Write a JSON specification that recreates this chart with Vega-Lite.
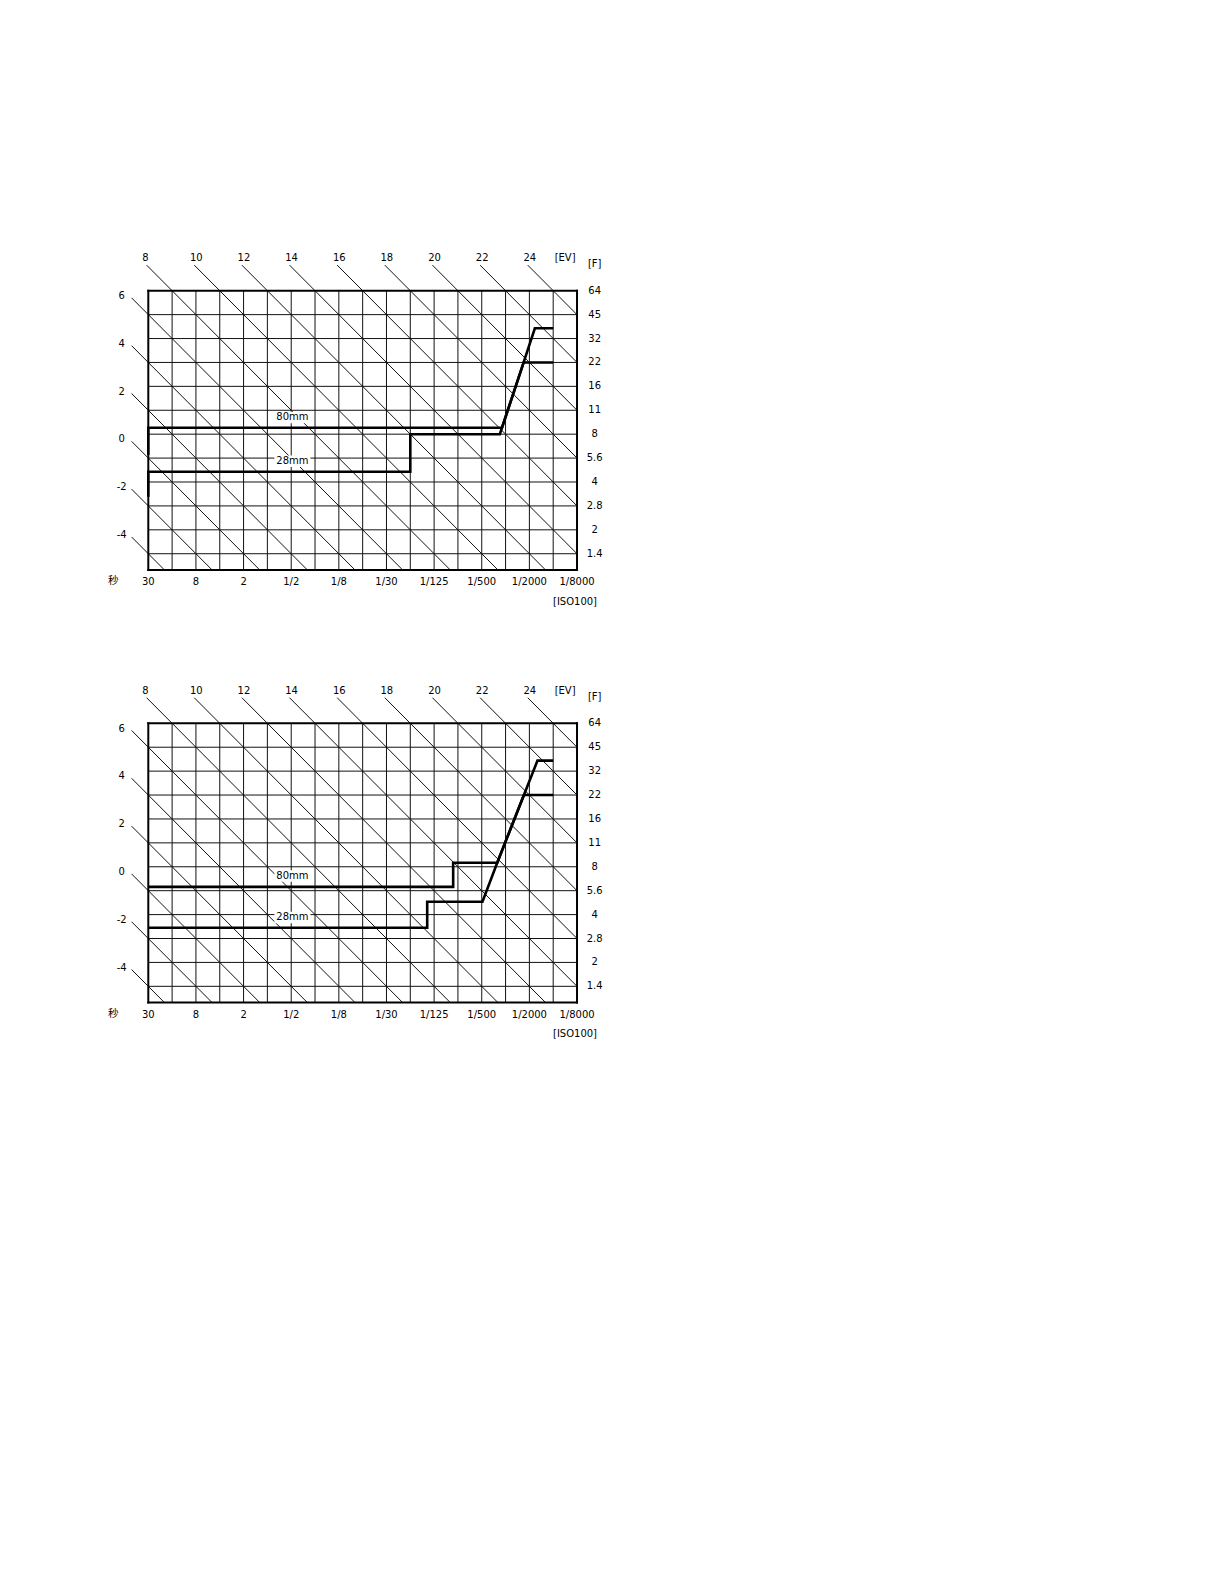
{
  "$schema": "https://vega.github.io/schema/vega-lite/v6.json",
  "background": "white",
  "padding": {"left": 88.75, "top": 242.9, "right": 0, "bottom": 0},
  "spacing": 59.6,
  "config": {
    "view": {"stroke": null},
    "text": {"font": "DejaVu Sans", "fontSize": 10, "color": "black"}
  },
  "datasets": {
    "grid": [
      {"tv": -4, "av": 0.32, "tv2": -4, "av2": 12}, {"tv": -3, "av": 0.32, "tv2": -3, "av2": 12},
      {"tv": -2, "av": 0.32, "tv2": -2, "av2": 12}, {"tv": -1, "av": 0.32, "tv2": -1, "av2": 12},
      {"tv": 0, "av": 0.32, "tv2": 0, "av2": 12}, {"tv": 1, "av": 0.32, "tv2": 1, "av2": 12},
      {"tv": 2, "av": 0.32, "tv2": 2, "av2": 12}, {"tv": 3, "av": 0.32, "tv2": 3, "av2": 12},
      {"tv": 4, "av": 0.32, "tv2": 4, "av2": 12}, {"tv": 5, "av": 0.32, "tv2": 5, "av2": 12},
      {"tv": 6, "av": 0.32, "tv2": 6, "av2": 12}, {"tv": 7, "av": 0.32, "tv2": 7, "av2": 12},
      {"tv": 8, "av": 0.32, "tv2": 8, "av2": 12}, {"tv": 9, "av": 0.32, "tv2": 9, "av2": 12},
      {"tv": 10, "av": 0.32, "tv2": 10, "av2": 12}, {"tv": 11, "av": 0.32, "tv2": 11, "av2": 12},
      {"tv": 12, "av": 0.32, "tv2": 12, "av2": 12},
      {"tv": -5, "av": 1, "tv2": 13, "av2": 1}, {"tv": -5, "av": 2, "tv2": 13, "av2": 2},
      {"tv": -5, "av": 3, "tv2": 13, "av2": 3}, {"tv": -5, "av": 4, "tv2": 13, "av2": 4},
      {"tv": -5, "av": 5, "tv2": 13, "av2": 5}, {"tv": -5, "av": 6, "tv2": 13, "av2": 6},
      {"tv": -5, "av": 7, "tv2": 13, "av2": 7}, {"tv": -5, "av": 8, "tv2": 13, "av2": 8},
      {"tv": -5, "av": 9, "tv2": 13, "av2": 9}, {"tv": -5, "av": 10, "tv2": 13, "av2": 10},
      {"tv": -5, "av": 11, "tv2": 13, "av2": 11},
      {"tv": -5.07, "av": 13.07, "tv2": 7.68, "av2": 0.32},
      {"tv": -3.07, "av": 13.07, "tv2": 9.68, "av2": 0.32},
      {"tv": -1.07, "av": 13.07, "tv2": 11.68, "av2": 0.32},
      {"tv": 0.93, "av": 13.07, "tv2": 13, "av2": 1},
      {"tv": 2.93, "av": 13.07, "tv2": 13, "av2": 3},
      {"tv": 4.93, "av": 13.07, "tv2": 13, "av2": 5},
      {"tv": 6.93, "av": 13.07, "tv2": 13, "av2": 7},
      {"tv": 8.93, "av": 13.07, "tv2": 13, "av2": 9},
      {"tv": 10.93, "av": 13.07, "tv2": 13, "av2": 11},
      {"tv": -5.7, "av": 11.7, "tv2": 5.68, "av2": 0.32},
      {"tv": -5.7, "av": 9.7, "tv2": 3.68, "av2": 0.32},
      {"tv": -5.7, "av": 7.7, "tv2": 1.68, "av2": 0.32},
      {"tv": -5.7, "av": 5.7, "tv2": -0.32, "av2": 0.32},
      {"tv": -5.7, "av": 3.7, "tv2": -2.32, "av2": 0.32},
      {"tv": -5.7, "av": 1.7, "tv2": -4.32, "av2": 0.32}
    ],
    "frame": [
      {"tv": -5, "av": 12, "tv2": 13, "av2": 12},
      {"tv": -5, "av": 0.32, "tv2": 13, "av2": 0.32},
      {"tv": -5, "av": 0.32, "tv2": -5, "av2": 12},
      {"tv": 13, "av": 0.32, "tv2": 13, "av2": 12}
    ],
    "evTop": [
      {"label": "8", "tv": -5.25, "av": 13.35},
      {"label": "10", "tv": -3.25, "av": 13.35},
      {"label": "12", "tv": -1.25, "av": 13.35},
      {"label": "14", "tv": 0.75, "av": 13.35},
      {"label": "16", "tv": 2.75, "av": 13.35},
      {"label": "18", "tv": 4.75, "av": 13.35},
      {"label": "20", "tv": 6.75, "av": 13.35},
      {"label": "22", "tv": 8.75, "av": 13.35},
      {"label": "24", "tv": 10.75, "av": 13.35},
      {"label": "[EV]", "tv": 12.06, "av": 13.36}
    ],
    "centred": [
      {"label": "6", "tv": -6.12, "av": 11.78},
      {"label": "4", "tv": -6.12, "av": 9.78},
      {"label": "2", "tv": -6.12, "av": 7.78},
      {"label": "0", "tv": -6.12, "av": 5.78},
      {"label": "-2", "tv": -6.12, "av": 3.78},
      {"label": "-4", "tv": -6.12, "av": 1.78},
      {"label": "30", "tv": -5, "av": -0.2}, {"label": "8", "tv": -3, "av": -0.2},
      {"label": "2", "tv": -1, "av": -0.2}, {"label": "1/2", "tv": 1, "av": -0.2},
      {"label": "1/8", "tv": 3, "av": -0.2}, {"label": "1/30", "tv": 5, "av": -0.2},
      {"label": "1/125", "tv": 7, "av": -0.2}, {"label": "1/500", "tv": 9, "av": -0.2},
      {"label": "1/2000", "tv": 11, "av": -0.2}, {"label": "1/8000", "tv": 13, "av": -0.2},
      {"label": "[F]", "tv": 13.74, "av": 13.1},
      {"label": "64", "tv": 13.74, "av": 12}, {"label": "45", "tv": 13.74, "av": 11},
      {"label": "32", "tv": 13.74, "av": 10}, {"label": "22", "tv": 13.74, "av": 9},
      {"label": "16", "tv": 13.74, "av": 8}, {"label": "11", "tv": 13.74, "av": 7},
      {"label": "8", "tv": 13.74, "av": 6}, {"label": "5.6", "tv": 13.74, "av": 5},
      {"label": "4", "tv": 13.74, "av": 4}, {"label": "2.8", "tv": 13.74, "av": 3},
      {"label": "2", "tv": 13.74, "av": 2}, {"label": "1.4", "tv": 13.74, "av": 1}
    ],
    "unit": [{"label": "秒", "tv": -6.47, "av": -0.15}],
    "iso": [{"label": "[ISO100]", "tv": 13.84, "av": -1.0}],
    "progTop": [
      {"lens": "80mm", "i": 0, "tv": -5, "av": 5.13},
      {"lens": "80mm", "i": 1, "tv": -5, "av": 6.27},
      {"lens": "80mm", "i": 2, "tv": 9.85, "av": 6.27},
      {"lens": "80mm", "i": 3, "tv": 11.23, "av": 10.43},
      {"lens": "80mm", "i": 4, "tv": 12, "av": 10.43},
      {"lens": "28mm", "i": 0, "tv": -5, "av": 3.38},
      {"lens": "28mm", "i": 1, "tv": -5, "av": 4.43},
      {"lens": "28mm", "i": 2, "tv": 6.0, "av": 4.43},
      {"lens": "28mm", "i": 3, "tv": 6.0, "av": 6.0},
      {"lens": "28mm", "i": 4, "tv": 9.76, "av": 6.0},
      {"lens": "28mm", "i": 5, "tv": 10.76, "av": 9.0},
      {"lens": "28mm", "i": 6, "tv": 12, "av": 9.0}
    ],
    "progBot": [
      {"lens": "80mm", "i": 0, "tv": -5, "av": 5.16},
      {"lens": "80mm", "i": 1, "tv": 7.8, "av": 5.16},
      {"lens": "80mm", "i": 2, "tv": 7.8, "av": 6.17},
      {"lens": "80mm", "i": 3, "tv": 9.65, "av": 6.17},
      {"lens": "80mm", "i": 4, "tv": 11.34, "av": 10.44},
      {"lens": "80mm", "i": 5, "tv": 12, "av": 10.44},
      {"lens": "28mm", "i": 0, "tv": -5, "av": 3.45},
      {"lens": "28mm", "i": 1, "tv": 6.71, "av": 3.45},
      {"lens": "28mm", "i": 2, "tv": 6.71, "av": 4.54},
      {"lens": "28mm", "i": 3, "tv": 9.03, "av": 4.54},
      {"lens": "28mm", "i": 4, "tv": 9.65, "av": 6.17},
      {"lens": "28mm", "i": 5, "tv": 10.77, "av": 9.0},
      {"lens": "28mm", "i": 6, "tv": 12, "av": 9.0}
    ],
    "labTop": [
      {"label": "80mm", "tv": 1.05, "av": 6.7},
      {"label": "28mm", "tv": 1.05, "av": 4.87}
    ],
    "labBot": [
      {"label": "80mm", "tv": 1.05, "av": 5.61},
      {"label": "28mm", "tv": 1.05, "av": 3.88}
    ]
  },
  "vconcat": [
    {
      "width": 524,
      "height": 373,
      "encoding": {
        "x": {"field": "tv", "type": "quantitative", "scale": {"domain": [-7.5, 14.5], "nice": false, "zero": false}, "axis": null},
        "y": {"field": "av", "type": "quantitative", "scale": {"domain": [-1.6, 14], "nice": false, "zero": false}, "axis": null}
      },
      "layer": [
        {"data": {"name": "grid"}, "mark": {"type": "rule", "color": "#111", "strokeWidth": 1},
         "encoding": {"x2": {"field": "tv2"}, "y2": {"field": "av2"}}},
        {"data": {"name": "labTop"}, "mark": {"type": "point", "shape": "M-1,-0.32H1V0.32H-1Z", "size": 1296, "filled": true, "color": "white", "opacity": 1, "strokeWidth": 0}},
        {"data": {"name": "frame"}, "mark": {"type": "rule", "color": "black", "strokeWidth": 2, "strokeCap": "square"},
         "encoding": {"x2": {"field": "tv2"}, "y2": {"field": "av2"}}},
        {"data": {"name": "progTop"}, "mark": {"type": "line", "color": "black", "strokeWidth": 2.6, "strokeJoin": "miter", "strokeCap": "butt"},
         "encoding": {"detail": {"field": "lens"}, "order": {"field": "i", "type": "quantitative"}}},
        {"data": {"name": "labTop"}, "mark": {"type": "text", "align": "center", "baseline": "middle"},
         "encoding": {"text": {"field": "label"}}},
        {"data": {"name": "evTop"}, "mark": {"type": "text", "align": "left", "baseline": "middle"},
         "encoding": {"text": {"field": "label"}}},
        {"data": {"name": "centred"}, "mark": {"type": "text", "align": "center", "baseline": "middle"},
         "encoding": {"text": {"field": "label"}}},
        {"data": {"name": "unit"}, "mark": {"type": "text", "align": "center", "baseline": "middle", "font": "Noto Sans CJK JP", "fontSize": 10.5},
         "encoding": {"text": {"field": "label"}}},
        {"data": {"name": "iso"}, "mark": {"type": "text", "align": "right", "baseline": "middle"},
         "encoding": {"text": {"field": "label"}}}
      ]
    },
    {
      "width": 524,
      "height": 373,
      "encoding": {
        "x": {"field": "tv", "type": "quantitative", "scale": {"domain": [-7.5, 14.5], "nice": false, "zero": false}, "axis": null},
        "y": {"field": "av", "type": "quantitative", "scale": {"domain": [-1.6, 14], "nice": false, "zero": false}, "axis": null}
      },
      "layer": [
        {"data": {"name": "grid"}, "mark": {"type": "rule", "color": "#111", "strokeWidth": 1},
         "encoding": {"x2": {"field": "tv2"}, "y2": {"field": "av2"}}},
        {"data": {"name": "labBot"}, "mark": {"type": "point", "shape": "M-1,-0.32H1V0.32H-1Z", "size": 1296, "filled": true, "color": "white", "opacity": 1, "strokeWidth": 0}},
        {"data": {"name": "frame"}, "mark": {"type": "rule", "color": "black", "strokeWidth": 2, "strokeCap": "square"},
         "encoding": {"x2": {"field": "tv2"}, "y2": {"field": "av2"}}},
        {"data": {"name": "progBot"}, "mark": {"type": "line", "color": "black", "strokeWidth": 2.6, "strokeJoin": "miter", "strokeCap": "butt"},
         "encoding": {"detail": {"field": "lens"}, "order": {"field": "i", "type": "quantitative"}}},
        {"data": {"name": "labBot"}, "mark": {"type": "text", "align": "center", "baseline": "middle"},
         "encoding": {"text": {"field": "label"}}},
        {"data": {"name": "evTop"}, "mark": {"type": "text", "align": "left", "baseline": "middle"},
         "encoding": {"text": {"field": "label"}}},
        {"data": {"name": "centred"}, "mark": {"type": "text", "align": "center", "baseline": "middle"},
         "encoding": {"text": {"field": "label"}}},
        {"data": {"name": "unit"}, "mark": {"type": "text", "align": "center", "baseline": "middle", "font": "Noto Sans CJK JP", "fontSize": 10.5},
         "encoding": {"text": {"field": "label"}}},
        {"data": {"name": "iso"}, "mark": {"type": "text", "align": "right", "baseline": "middle"},
         "encoding": {"text": {"field": "label"}}}
      ]
    }
  ]
}
